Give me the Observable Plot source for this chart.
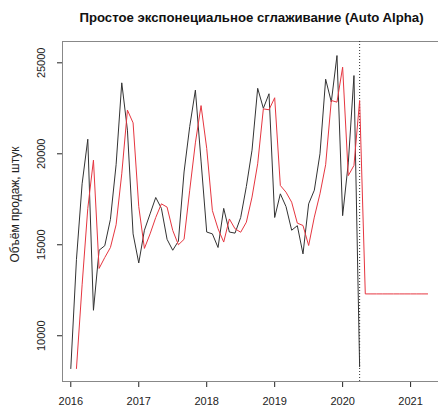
<!DOCTYPE html>
<html><head><meta charset="utf-8">
<script src="https://cdn.jsdelivr.net/npm/d3@7"></script>
<script src="https://cdn.jsdelivr.net/npm/@observablehq/plot@0.6"></script>
<style>body{margin:0;background:#fff} svg{display:block}</style>
</head><body><div id="chart"></div>
<script>
const startYear = 2016;
// Monthly sales, Jan 2016 .. Apr 2020
const actual = [8200, 14200, 18350, 20800, 11400, 14700, 14950, 16400, 19400, 23900, 21300, 15600,
  14000, 15800, 16700, 17600, 17000, 15300, 14700, 15200, 19000, 21500, 23500, 19600,
  15700, 15600, 14850, 17000, 15700, 15640, 16500, 18200, 20200, 23600, 22500, 23300,
  16500, 17800, 17100, 15800, 16050, 14500, 17250, 18000, 20000, 24100, 22850, 25400,
  16600, 19500, 24300, 8300];
// SES fitted values, Feb 2016 .. Apr 2020
const fitted = [8200, 12800, 17000, 19650, 13700, 14300, 14850, 16100, 18900, 22400, 21700,
  17100, 14800, 15600, 16500, 17250, 17070, 15790, 15000, 15300, 18000, 20600, 22650,
  20300, 16880, 15880, 15150, 16420, 15880, 15690, 16240, 17620, 19450, 22470, 22420,
  23080, 18260, 17890, 17340, 16190, 16060, 14960, 16520, 17800, 19400, 22930, 22840,
  24760, 18800, 19360, 22930];
// Forecast, May 2020 .. Apr 2021
const forecast = [12300, 12300, 12300, 12300, 12300, 12300, 12300, 12300, 12300, 12300, 12300, 12300];
const xTicks = [2016, 2017, 2018, 2019, 2020, 2021];
const yTicks = [10000, 15000, 20000, 25000];
const forecastStart = 2020.25;
const title = "Простое экспонециальное сглаживание (Auto Alpha)";
const yLabel = "Объём продаж, штук";

const actualData = actual.map((v, i) => ({t: startYear + i / 12, v}));
const redData = fitted.concat(forecast).map((v, i) => ({t: startYear + (i + 1) / 12, v}));

const chart = Plot.plot({
  width: 438, height: 409,
  marginLeft: 62, marginTop: 41, marginBottom: 28, marginRight: -2,
  style: {fontFamily: "'Liberation Sans', Arial, sans-serif", fontSize: "11px", background: "#fff", color: "#222"},
  x: {domain: [2015.878, 2021.44], ticks: xTicks, tickFormat: d => String(d), tickSize: 6, tickPadding: 10, label: null},
  y: {domain: [7486, 26172], ticks: yTicks, tickSize: 5, tickFormat: () => "", label: null},
  marks: [
    Plot.frame({stroke: "#888"}),
    Plot.ruleX([forecastStart], {stroke: "#333", strokeDasharray: "1,2"}),
    Plot.line(actualData, {x: "t", y: "v", stroke: "#333", strokeWidth: 1}),
    Plot.line(redData, {x: "t", y: "v", stroke: "#e63640", strokeWidth: 1}),
    Plot.text(yTicks, {y: d => d, text: d => String(d), frameAnchor: "left", textAnchor: "middle", lineAnchor: "middle", dx: -21, rotate: -90, fontSize: 11, fill: "#222"}),
    Plot.text([title], {text: d => d, frameAnchor: "top", dy: -28.5, fontWeight: "bold", fontSize: 13.2, fill: "#111"}),
    Plot.text([yLabel], {text: d => d, frameAnchor: "left", textAnchor: "middle", lineAnchor: "middle", dx: -47, dy: -7, rotate: -90, fontSize: 12, fill: "#222"})
  ]
});
document.getElementById("chart").appendChild(chart);
</script>
</body></html>
